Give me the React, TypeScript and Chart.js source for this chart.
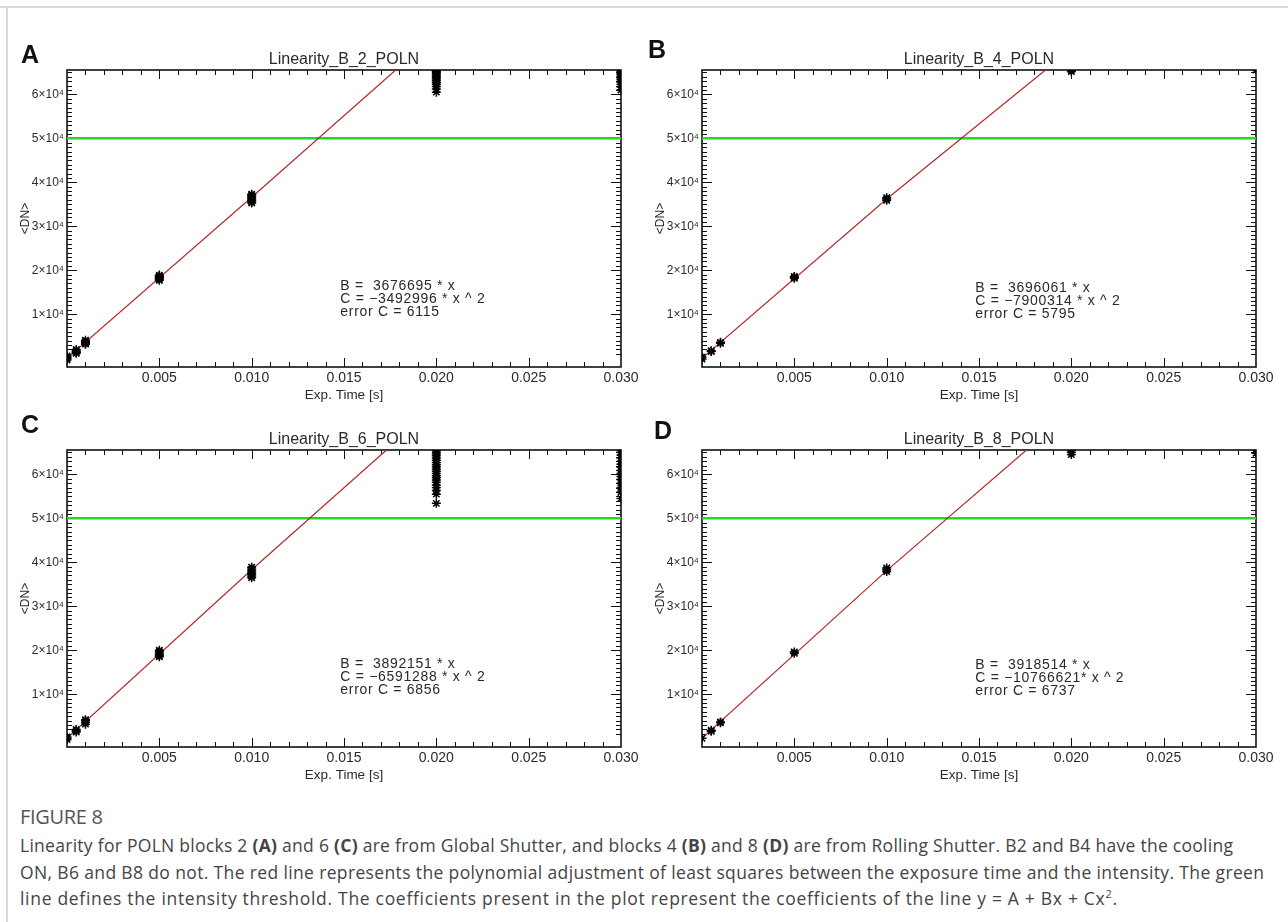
import React, { useEffect, useRef } from 'react';
import { Chart, registerables } from 'chart.js';
Chart.register(...registerables);

// ---------- data ----------
const exposureTimes = [0, 0.0005, 0.001, 0.005, 0.010, 0.020, 0.030];

// DN readings for each exposure time (one inner list per exposure)
const dnB2 = [
  [-400, -100, 200, 500],
  [1100, 1400, 1700, 2000, 1300],
  [3200, 3500, 3800, 4100, 3350],
  [17700, 17900, 18100, 18300, 18500, 18700, 18900],
  [35300, 35600, 35900, 36200, 36500, 36800, 37100, 37300],
  [60500, 61200, 61800, 62300, 62700, 63100, 63500, 63800, 64100, 64400, 64700, 65000, 65200, 65400, 65535],
  [61000, 61700, 62300, 62800, 63300, 63700, 64100, 64500, 64800, 65100, 65300, 65535],
];
const dnB4 = [
  [-200, 200],
  [1500, 1700],
  [3400, 3600],
  [18200, 18400, 18600],
  [35900, 36200, 36500],
  [65200, 65535],
  [65535],
];
const dnB6 = [
  [-300, 0, 300],
  [1400, 1700, 2000],
  [3200, 3600, 4000, 4200],
  [18500, 18800, 19100, 19400, 19700, 20000],
  [36500, 36900, 37300, 37700, 38100, 38500, 38900],
  [53400, 55500, 56300, 57000, 57600, 58200, 58700, 59200, 59700, 60200, 60700, 61200, 61700, 62200, 62700, 63200, 63700, 64200, 64700, 65100, 65535],
  [54500, 56000, 57000, 58000, 58800, 59500, 60200, 60900, 61600, 62300, 63000, 63700, 64400, 65000, 65535],
];
const dnB8 = [
  [0],
  [1600, 1800],
  [3500, 3700],
  [19300, 19600],
  [37900, 38300, 38700],
  [64500, 65000, 65535],
  [64800, 65535],
];

// least-squares fit lines (read where they cross the frame)
const fitB2X = [0, 0.010, 0.0178];
const fitB2Y = [0, 36600, 65535];
const fitB4X = [0, 0.010, 0.0186];
const fitB4Y = [0, 36200, 65535];
const fitB6X = [0, 0.010, 0.0173];
const fitB6Y = [0, 38300, 65535];
const fitB8X = [0, 0.010, 0.01757];
const fitB8Y = [0, 38100, 65535];

const thresholdX = [0, 0.03];
const thresholdY = [50000, 50000];

const xMajorTicks = [0.005, 0.010, 0.015, 0.020, 0.025, 0.030];
const xTickLabels = ['0.005', '0.010', '0.015', '0.020', '0.025', '0.030'];
const yMajorTicks = [10000, 20000, 30000, 40000, 50000, 60000];
const yTickLabels = ['1×10⁴', '2×10⁴', '3×10⁴', '4×10⁴', '5×10⁴', '6×10⁴'];

const notesB2 = ['B =  3676695 * x', 'C = \u22123492996 * x ^ 2', 'error C = 6115'];
const notesB4 = ['B =  3696061 * x', 'C = \u22127900314 * x ^ 2', 'error C = 5795'];
const notesB6 = ['B =  3892151 * x', 'C = \u22126591288 * x ^ 2', 'error C = 6856'];
const notesB8 = ['B =  3918514 * x', 'C = \u221210766621* x ^ 2', 'error C = 6737'];

const panels = [
  { letter: 'A', title: 'Linearity_B_2_POLN', dn: dnB2, fitX: fitB2X, fitY: fitB2Y, notes: notesB2, left: 8, top: 38, noteY: 16300 },
  { letter: 'B', title: 'Linearity_B_4_POLN', dn: dnB4, fitX: fitB4X, fitY: fitB4Y, notes: notesB4, left: 643, top: 38, noteY: 16000 },
  { letter: 'C', title: 'Linearity_B_6_POLN', dn: dnB6, fitX: fitB6X, fitY: fitB6Y, notes: notesB6, left: 8, top: 418, noteY: 16800 },
  { letter: 'D', title: 'Linearity_B_8_POLN', dn: dnB8, fitX: fitB8X, fitY: fitB8Y, notes: notesB8, left: 643, top: 418, noteY: 16600 },
];

const X_MIN = 0;
const X_MAX = 0.03;
const Y_MIN = -2000;
const Y_MAX = 65535;

const PLOT_FONT = "'Liberation Sans', Arial, sans-serif";
const TEXT_COLOR = '#2a2a2a';
const CANVAS_W = 636;
const CANVAS_H = 380;

// ---------- IDL-style frame plugin ----------
const idlFrame = {
  id: 'idlFrame',
  beforeDatasetsDraw(chart: any, _args: any, opts: any) {
    const { ctx, chartArea } = chart;
    const { left, right, top, bottom } = chartArea;
    const xs = chart.scales.x;
    const ys = chart.scales.y;
    ctx.save();
    ctx.strokeStyle = '#111';
    ctx.lineWidth = 1;
    ctx.beginPath();
    for (let i = 1; i < 30; i++) {
      const px = Math.round(xs.getPixelForValue(i * 0.001)) + 0.5;
      const len = i % 5 === 0 ? 9 : 5;
      ctx.moveTo(px, bottom);
      ctx.lineTo(px, bottom - len);
      ctx.moveTo(px, top);
      ctx.lineTo(px, top + len);
    }
    for (let i = 1; i <= 65; i++) {
      const py = Math.round(ys.getPixelForValue(i * 1000)) + 0.5;
      const len = i % 10 === 0 ? 10 : 5;
      ctx.moveTo(left, py);
      ctx.lineTo(left + len, py);
      ctx.moveTo(right, py);
      ctx.lineTo(right - len, py);
    }
    ctx.stroke();
    ctx.lineWidth = 1.6;
    ctx.strokeRect(left, top, right - left, bottom - top);

    ctx.fillStyle = TEXT_COLOR;
    ctx.font = `16px ${PLOT_FONT}`;
    ctx.textAlign = 'center';
    ctx.textBaseline = 'middle';
    ctx.fillText(opts.title, (left + right) / 2, top - 10);

    ctx.font = `14px ${PLOT_FONT}`;
    ctx.textAlign = 'left';
    try { (ctx as any).letterSpacing = '0.7px'; } catch (e) { /* ignore */ }
    const nx = xs.getPixelForValue(opts.noteX);
    const ny = ys.getPixelForValue(opts.noteY);
    (opts.notes as string[]).forEach((t, i) => ctx.fillText(t, nx, ny + i * 13));
    try { (ctx as any).letterSpacing = '0px'; } catch (e) { /* ignore */ }
    ctx.restore();
  },
};

function Panel({ cfg }: { cfg: any }) {
  const ref = useRef<HTMLCanvasElement | null>(null);
  useEffect(() => {
    if (!ref.current) return;
    const points = exposureTimes.flatMap((t, i) => cfg.dn[i].map((v: number) => ({ x: t, y: v })));
    const fit = cfg.fitX.map((x: number, i: number) => ({ x, y: cfg.fitY[i] }));
    const thr = thresholdX.map((x, i) => ({ x, y: thresholdY[i] }));
    const chart = new Chart(ref.current, {
      type: 'scatter',
      data: {
        datasets: [
          {
            data: points,
            pointStyle: 'star',
            pointRadius: 4.5,
            pointBorderColor: '#000',
            pointBackgroundColor: '#000',
            pointBorderWidth: 1.5,
            showLine: false,
            order: 0,
          } as any,
          {
            type: 'line',
            data: fit,
            borderColor: '#b52a2a',
            borderWidth: 1.2,
            pointRadius: 0,
            tension: 0,
            order: 1,
          } as any,
          {
            type: 'line',
            data: thr,
            borderColor: '#22d922',
            borderWidth: 2.5,
            pointRadius: 0,
            order: 2,
          } as any,
        ],
      },
      options: {
        animation: false,
        responsive: false,
        maintainAspectRatio: false,
        layout: { padding: { top: 32, right: 23, left: 0, bottom: 0 } },
        plugins: {
          legend: { display: false },
          tooltip: { enabled: false },
          title: { display: false },
          idlFrame: { title: cfg.title, notes: cfg.notes, noteX: 0.0148, noteY: cfg.noteY },
        } as any,
        scales: {
          x: {
            type: 'linear',
            min: X_MIN,
            max: X_MAX,
            grid: { display: false, drawTicks: false },
            border: { display: false },
            afterBuildTicks: (s: any) => {
              s.ticks = xMajorTicks.map((v) => ({ value: v }));
            },
            afterFit: (s: any) => {
              s.height = 51;
            },
            ticks: {
              padding: 3,
              maxRotation: 0,
              autoSkip: false,
              color: TEXT_COLOR,
              font: { family: PLOT_FONT, size: 14 },
              callback: (v: any) => {
                const i = xMajorTicks.findIndex((m) => Math.abs(m - Number(v)) < 1e-9);
                return i >= 0 ? xTickLabels[i] : '';
              },
            },
            title: {
              display: true,
              text: 'Exp. Time [s]',
              color: TEXT_COLOR,
              font: { family: PLOT_FONT, size: 13.5 },
              padding: { top: 0, bottom: 15 },
            },
          },
          y: {
            type: 'linear',
            min: Y_MIN,
            max: Y_MAX,
            grid: { display: false, drawTicks: false },
            border: { display: false },
            afterBuildTicks: (s: any) => {
              s.ticks = yMajorTicks.map((v) => ({ value: v }));
            },
            afterFit: (s: any) => {
              s.width = 59;
            },
            ticks: {
              padding: 3,
              autoSkip: false,
              color: TEXT_COLOR,
              font: { family: PLOT_FONT, size: 12 },
              callback: (v: any) => {
                const i = yMajorTicks.indexOf(Number(v));
                return i >= 0 ? yTickLabels[i] : '';
              },
            },
            title: {
              display: true,
              text: '<DN>',
              color: TEXT_COLOR,
              font: { family: PLOT_FONT, size: 12 },
              padding: { top: 10, bottom: 0 },
            },
          },
        },
      } as any,
      plugins: [idlFrame as any],
    });
    return () => chart.destroy();
  }, [cfg]);
  return (
    <canvas
      ref={ref}
      width={CANVAS_W}
      height={CANVAS_H}
      style={{ position: 'absolute', left: cfg.left, top: cfg.top, width: CANVAS_W, height: CANVAS_H }}
    />
  );
}

const captionTargets = [1213, 1244, 1097];

function Caption() {
  const refs = useRef<(HTMLDivElement | null)[]>([]);
  useEffect(() => {
    refs.current.forEach((el, i) => {
      if (!el) return;
      el.style.letterSpacing = '0px';
      const w = el.getBoundingClientRect().width;
      const n = (el.textContent || '').length;
      const ls = (captionTargets[i] - w) / Math.max(1, n - 1);
      el.style.letterSpacing = `${ls}px`;
    });
  }, []);
  const lineStyle: React.CSSProperties = {
    position: 'absolute',
    left: 20,
    whiteSpace: 'nowrap',
    fontFamily: "'Open Sans', 'Lato', sans-serif",
    fontSize: 17.5,
    color: '#444',
    lineHeight: '20px',
  };
  return (
    <>
      <div style={{ ...lineStyle, top: 807, fontSize: 20, color: '#555', letterSpacing: '-0.3px' }}>FIGURE 8</div>
      <div ref={(e) => { refs.current[0] = e; }} style={{ ...lineStyle, top: 835 }}>
        Linearity for POLN blocks 2 <b>(A)</b> and 6 <b>(C)</b> are from Global Shutter, and blocks 4 <b>(B)</b> and 8 <b>(D)</b> are from Rolling Shutter. B2 and B4 have the cooling
      </div>
      <div ref={(e) => { refs.current[1] = e; }} style={{ ...lineStyle, top: 862 }}>
        ON, B6 and B8 do not. The red line represents the polynomial adjustment of least squares between the exposure time and the intensity. The green
      </div>
      <div ref={(e) => { refs.current[2] = e; }} style={{ ...lineStyle, top: 888 }}>
        line defines the intensity threshold. The coefficients present in the plot represent the coefficients of the line y = A + Bx + Cx<sup style={{ fontSize: 11, lineHeight: 0 }}>2</sup>.
      </div>
    </>
  );
}

const letterPos = [
  { l: 'A', x: 21, y: 42 },
  { l: 'B', x: 648, y: 37 },
  { l: 'C', x: 21, y: 412 },
  { l: 'D', x: 654, y: 418 },
];

export default function App() {
  return (
    <div style={{ position: 'absolute', left: 0, top: 0, width: 1288, height: 922, background: '#fff', overflow: 'hidden' }}>
      <div style={{ position: 'absolute', left: 0, top: 6, width: 1288, height: 0, borderTop: '2px solid #dadada' }} />
      <div style={{ position: 'absolute', left: 6, top: 8, width: 0, height: 920, borderLeft: '2px solid #dadada' }} />
      {panels.map((p) => (
        <Panel key={p.letter} cfg={p} />
      ))}
      {letterPos.map((p) => (
        <div
          key={p.l}
          style={{ position: 'absolute', left: p.x, top: p.y, fontFamily: "'Liberation Sans', Arial, sans-serif", fontWeight: 700, fontSize: 25, lineHeight: '25px', color: '#111' }}
        >
          {p.l}
        </div>
      ))}
      <Caption />
    </div>
  );
}
